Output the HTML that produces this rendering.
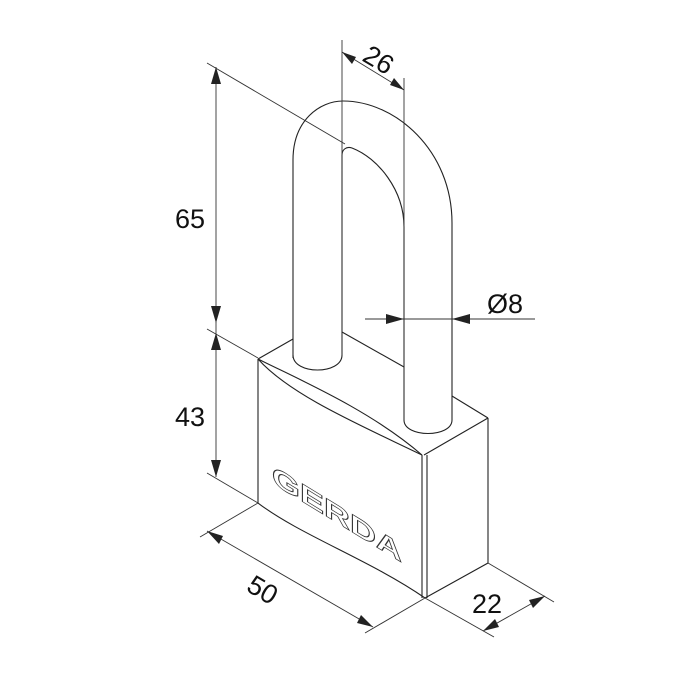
<!DOCTYPE html>
<html><head><meta charset="utf-8"><style>html,body{margin:0;padding:0;background:#fff}svg{display:block}</style></head>
<body>
<svg width="700" height="700" viewBox="0 0 700 700" xmlns="http://www.w3.org/2000/svg" font-family="Liberation Sans, sans-serif">
<rect width="700" height="700" fill="#fff"/>
<g fill="none" stroke="#222" stroke-width="1.1">
<path d="M293,358 L293,160 C293,120 320,101 343,101 C395,101 452,150 452,223 L452,420"/>
<path d="M342,355 L342,155 C342,150 346,146 352,148 C378,158 404,190 404,227 L404,420"/>
<path d="M293,355 C293,375 342,375 342,355"/>
<path d="M404,420 C404,438 452,438 452,420"/>
<path d="M258,359 L293,339"/>
<path d="M342,332 L404,367"/>
<path d="M452,396 L488,418"/>
<path d="M488,418 L424,455"/>
<path d="M258,359 C300,380 370,410 422,455"/>
<path d="M258,359 C290,395 360,425 422,455"/>
<path d="M258,359 L258,503"/>
<path d="M258,503 C300,535 370,560 425,598"/>
<path d="M422,455 L422,598 M427,455 L427,598"/>
<path d="M488,418 L488,563 L425,598"/>
</g>
<g fill="none" stroke="#333" stroke-width="0.9">
<path d="M207,63 L345,144"/>
<path d="M207,329 L258,358"/>
<path d="M207,473 L258,503"/>
<path d="M342,40 L342,355"/>
<path d="M404,78 L404,420"/>
<path d="M258,503 L200,537"/>
<path d="M425,598 L365,633"/>
<path d="M425,598 L494,637"/>
<path d="M488,563 L554,602"/>
<path d="M216,67 L216,477"/>
<path d="M342,52 L404,90"/>
<path d="M365,319 L535,319"/>
<path d="M207,531 L373,627"/>
<path d="M483,631 L545,596"/>
</g>
<g fill="#222">
<polygon points="216,67 211,84 221,84"/>
<polygon points="216,323 211,306 221,306"/>
<polygon points="216,333 211,350 221,350"/>
<polygon points="216,477 211,460 221,460"/>
<polygon points="342,52 352,64 356,57"/>
<polygon points="404,90 390,85 394,78"/>
<polygon points="404,319 386,314 386,324"/>
<polygon points="452,319 470,314 470,324"/>
<polygon points="207,531 219,544 223,536"/>
<polygon points="373,627 357,623 361,615"/>
<polygon points="483,631 495,619 499,627"/>
<polygon points="545,596 529,600 533,608"/>
</g>
<g fill="#111" font-size="27">
<text x="175" y="228">65</text>
<text x="175" y="426">43</text>
<text x="0" y="0" transform="translate(361,60) rotate(31)">26</text>
<text x="487" y="313">Ø8</text>
<text x="0" y="0" transform="translate(245,590) rotate(31)">50</text>
<text x="472" y="613">22</text>
</g>
<text x="0" y="0" transform="matrix(0.866,0.53,0,1,272,483)" font-size="26" font-weight="bold" fill="#fff" stroke="#333" stroke-width="0.8" textLength="150" lengthAdjust="spacingAndGlyphs">GERDA</text>
</svg>
</body></html>
